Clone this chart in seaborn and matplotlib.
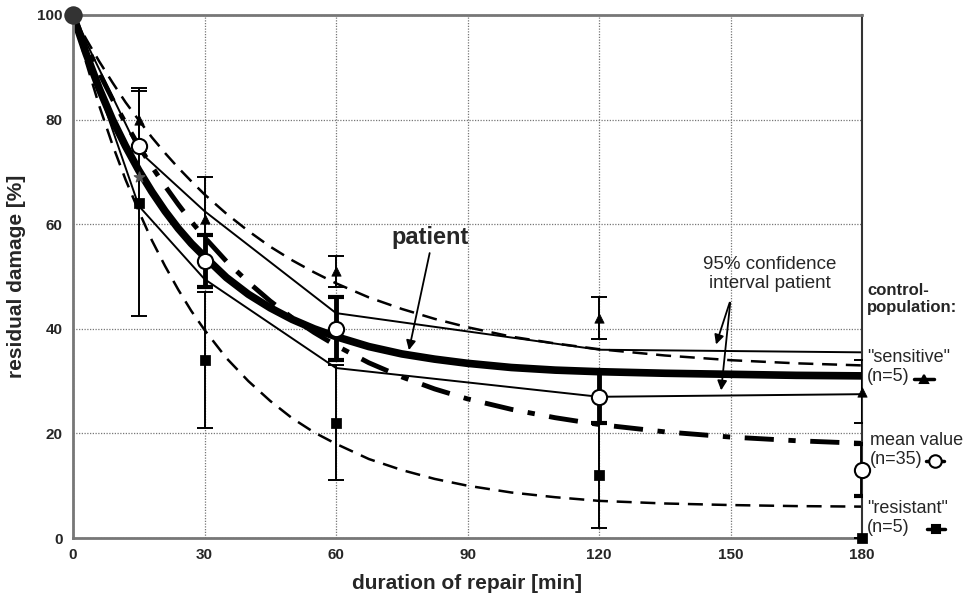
import numpy as np
import pandas as pd
import matplotlib
matplotlib.use("Agg")
import matplotlib.pyplot as plt
import seaborn as sns
from matplotlib.lines import Line2D

# ---------------- data ----------------
times = [0, 15, 30, 60, 120, 180]

# measured points (control population)
sens_val = [100, 80, 61, 51, 42, 28]
sens_err = [0, 6, 8, 3, 4, 6]
mean_val = [100, 75, 53, 40, 27, 13]
mean_err = [0, 0, 5, 6, 5, 5]
res_val = [100, 64, 34, 22, 12, 0]
res_err = [0, 21.5, 13, 11, 10, 0]

# patient measured point (asterisk)
pat_pt_t = [15]
pat_pt_v = [69]

# fitted curves
curve_t = [0, 3, 6, 9, 12, 15, 18, 21, 24, 27, 30, 35, 40, 45, 50, 55, 60,
           67.5, 75, 82.5, 90, 100, 110, 120, 135, 150, 165, 180]
patient_curve = [100, 92.6, 85.9, 80.0, 74.9, 70.3, 66.2, 62.5, 59.2, 56.3, 53.8, 49.8,
                 46.6, 44.0, 41.8, 40.0, 38.5, 36.6, 35.2, 34.2, 33.4, 32.6, 32.1, 31.8,
                 31.5, 31.3, 31.1, 31.0]
sens_curve = [100, 95.4, 91.1, 87.1, 83.3, 79.9, 76.6, 73.6, 70.8, 68.2, 65.7, 62.0,
              58.7, 55.7, 53.1, 50.8, 48.7, 46.0, 43.8, 41.9, 40.3, 38.5, 37.2, 36.1,
              34.9, 34.0, 33.4, 33.0]
res_curve = [100, 90.9, 82.6, 75.2, 68.5, 62.5, 56.9, 52.0, 47.5, 43.4, 39.8, 34.4,
             30.0, 26.2, 22.9, 20.2, 18.0, 15.1, 13.0, 11.3, 10.0, 8.7, 7.8, 7.1,
             6.6, 6.3, 6.1, 6.0]
mean_curve = [100, 94.3, 88.9, 83.9, 79.3, 75.0, 71.0, 67.3, 63.8, 60.5, 57.5, 52.9,
              48.9, 45.3, 42.1, 39.3, 36.8, 33.5, 30.8, 28.5, 26.6, 24.6, 23.0, 21.7,
              20.3, 19.3, 18.6, 18.1]

# 95% confidence interval of patient (piecewise linear)
ci_upper = [100, 74, 62.5, 43, 36, 35.5]
ci_lower = [100, 63.5, 49.5, 32.5, 27, 27.5]

x_ticks = [0, 30, 60, 90, 120, 150, 180]
y_ticks = [0, 20, 40, 60, 80, 100]

# ---------------- plot ----------------
sns.set_style("white")
plt.rcParams['font.family'] = ['Liberation Sans', 'DejaVu Sans']

fig = plt.figure(figsize=(9.69, 6.01), dpi=100)
ax = fig.add_axes([73 / 969, 1 - 538 / 601, (862 - 73) / 969, (538 - 15) / 601])

ax.set_xlim(0, 180)
ax.set_ylim(0, 100)
ax.set_xticks(x_ticks)
ax.set_yticks(y_ticks)
ax.grid(True, color="#777777", linestyle=(0, (1, 1.2)), linewidth=0.9)
ax.set_axisbelow(True)
for s in ax.spines.values():
    s.set_color("#777777")
    s.set_linewidth(2)
ax.spines['right'].set_color("#333333")
ax.spines['right'].set_linewidth(1.5)

curves = pd.DataFrame({"t": curve_t, "patient": patient_curve, "sens": sens_curve,
                       "res": res_curve, "mean": mean_curve})
ci = pd.DataFrame({"t": times, "up": ci_upper, "lo": ci_lower})

sns.lineplot(data=curves, x="t", y="sens", ax=ax, color="black", lw=1.8,
             linestyle=(0, (6, 3.5)), sort=False, estimator=None)
sns.lineplot(data=curves, x="t", y="res", ax=ax, color="black", lw=1.8,
             linestyle=(0, (6, 3.5)), sort=False, estimator=None)
sns.lineplot(data=curves, x="t", y="mean", ax=ax, color="black", lw=3.5,
             linestyle=(0, (6, 3, 1.5, 3)), sort=False, estimator=None)
sns.lineplot(data=ci, x="t", y="up", ax=ax, color="black", lw=1.4, sort=False, estimator=None)
sns.lineplot(data=ci, x="t", y="lo", ax=ax, color="black", lw=1.4, sort=False, estimator=None)
sns.lineplot(data=curves, x="t", y="patient", ax=ax, color="black", lw=5.5,
             sort=False, estimator=None)

# error bars
ax.errorbar(times, res_val, yerr=res_err, fmt="none", ecolor="black", elinewidth=1.4,
            capsize=6, capthick=1.4, zorder=4)
ax.errorbar(times, sens_val, yerr=sens_err, fmt="none", ecolor="black", elinewidth=1.4,
            capsize=6, capthick=1.4, zorder=4)
ax.errorbar(times, mean_val, yerr=mean_err, fmt="none", ecolor="black", elinewidth=3.5,
            capsize=6, capthick=3, zorder=4)

# markers
pts = pd.DataFrame({"t": times, "s": sens_val, "m": mean_val, "r": res_val})
sns.scatterplot(data=pts, x="t", y="r", ax=ax, marker="s", s=45, color="black",
                edgecolor="black", zorder=5, clip_on=False)
sns.scatterplot(data=pts, x="t", y="s", ax=ax, marker="^", s=45, color="black",
                edgecolor="black", zorder=5, clip_on=False)
sns.scatterplot(data=pts, x="t", y="m", ax=ax, marker="o", s=120, color="white",
                edgecolor="black", linewidth=1.5, zorder=6, clip_on=False)
ax.scatter(pat_pt_t, pat_pt_v, marker="*", s=60, color="#555555", zorder=5)
ax.scatter([0], [100], marker="o", s=150, color="#333333", zorder=7, clip_on=False)

# ticks and labels
ax.tick_params(axis="both", labelsize=11, length=4, color="#777777", width=1.5)
for lab in ax.get_xticklabels() + ax.get_yticklabels():
    lab.set_fontweight("bold")
ax.set_xlabel("duration of repair [min]", fontsize=15, fontweight="bold", labelpad=8)
ax.set_ylabel("residual damage [%]", fontsize=15, fontweight="bold", labelpad=8)

# annotations
ax.text(81.5, 57.5, "patient", fontsize=17, fontweight="bold", ha="center", va="center")
ax.annotate("", xy=(76.5, 35.4), xytext=(81.5, 55),
            arrowprops=dict(arrowstyle="-|>", color="black", lw=1.3, mutation_scale=14))
ax.text(159, 50.5, "95% confidence\ninterval patient", fontsize=13.5, ha="center",
        va="center", linespacing=1.1)
ax.annotate("", xy=(146.5, 36.5), xytext=(150, 45.5),
            arrowprops=dict(arrowstyle="-|>", color="black", lw=1.3, mutation_scale=14))
ax.annotate("", xy=(147.8, 27.7), xytext=(150, 45.5),
            arrowprops=dict(arrowstyle="-|>", color="black", lw=1.3, mutation_scale=14))

# right-hand legend text
fx = 867 / 969
fig.text(fx, 1 - 299 / 601, "control-\npopulation:", fontsize=12, fontweight="bold",
         ha="left", va="center", linespacing=1.15)
fig.text(fx, 1 - 367 / 601, "\"sensitive\"\n(n=5)", fontsize=13, ha="left", va="center",
         linespacing=1.1)
fig.text(870 / 969, 1 - 450 / 601, "mean value\n(n=35)", fontsize=13, ha="left",
         va="center", linespacing=1.1)
fig.text(fx, 1 - 518 / 601, "\"resistant\"\n(n=5)", fontsize=13, ha="left", va="center",
         linespacing=1.1)

def legend_mark(x0, x1, y, marker, ms, mfc):
    yy = 1 - y / 601
    fig.add_artist(Line2D([x0 / 969, x1 / 969], [yy, yy], color="black", lw=2.5,
                          transform=fig.transFigure))
    fig.add_artist(Line2D([(x0 + x1) / 2 / 969], [yy], marker=marker, ms=ms,
                          mfc=mfc, mec="black", mew=1.5, transform=fig.transFigure))

legend_mark(914, 934, 379, "^", 6, "black")
legend_mark(926, 944, 461, "o", 9, "white")
legend_mark(927, 945, 529, "s", 6, "black")

fig.savefig("out.png", dpi=100, facecolor="white")
